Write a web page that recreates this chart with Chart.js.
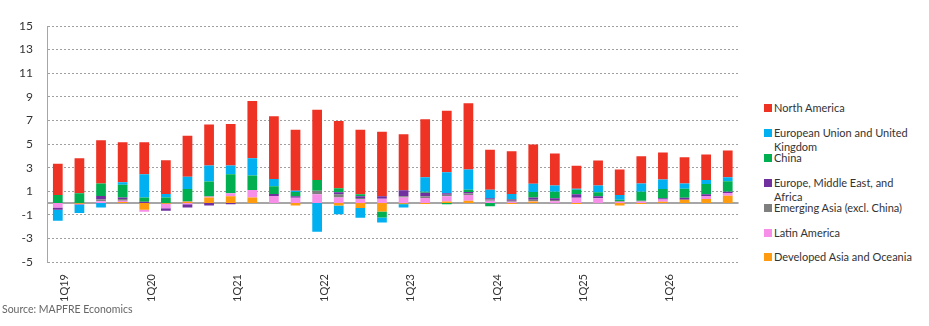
<!DOCTYPE html>
<html>
<head>
<meta charset="utf-8">
<script src="https://cdn.jsdelivr.net/npm/chart.js@4/dist/chart.umd.min.js"></script>
<style>
  body { margin: 0; background: #fff; font-family: Lato, sans-serif; }
  #wrap { position: absolute; left: 0; top: 0; width: 745px; height: 306px; }
  #legend { position: absolute; left: 764px; top: 0; width: 160px; font-size: 11px; color: #333; }
  .item { position: absolute; left: 0; width: 160px; line-height: 14px; }
  .sw { position: absolute; left: 0; top: 3px; width: 8px; height: 8px; }
  .tx { margin-left: 10px; display: block; width: 148px; }
  #src { position: absolute; left: 2px; top: 303px; font-size: 10.5px; color: #666; }
</style>
</head>
<body>
<div id="wrap"><canvas id="myChart"></canvas></div>
<div id="legend"></div>
<div id="src">Source: MAPFRE Economics</div>
<script>
var labels = [];
['19','20','21','22','23','24','25','26'].forEach(function(y){
  for (var q = 1; q <= 4; q++) labels.push(q + 'Q' + y);
});

var devAsia  = [0, -0.05, 0, 0.08, -0.57, -0.05, 0.1, 0.48, 0.57, 0.48, 0, -0.2, 0, -0.2, -0.43, -0.71, -0.05, -0.08, 0.14, 0.2, 0, -0.08, 0.12, 0, -0.08, 0, -0.2, -0.08, 0.11, 0.28, 0.34, 0.62];
var latAm    = [-0.37, -0.05, 0.15, 0.12, -0.17, -0.4, -0.1, 0.05, 0.25, 0.62, 0.6, 0.45, 0.74, 0.48, 0.34, 0.37, 0.48, 0.43, 0.43, 0.48, 0.2, 0.1, 0.05, 0.15, 0.45, 0.4, 0.1, 0.12, 0.2, 0, 0.26, 0.23];
var emAsia   = [0, 0, 0.15, 0.15, 0, 0, 0.05, 0.05, 0, 0, 0, 0, 0.31, 0.26, 0.08, 0, 0.09, 0.14, 0.14, 0.12, 0.1, 0.1, 0.1, 0.1, 0, 0, 0.07, 0.08, 0, 0, 0, 0];
var emea     = [-0.2, -0.05, 0.3, 0.13, 0.1, -0.2, -0.27, -0.2, -0.1, 0, 0.17, 0.12, 0, 0.17, 0.15, 0.2, 0.51, 0.31, 0.11, 0.14, 0.1, 0.1, 0.2, 0.15, 0.29, 0.17, 0, 0, 0.09, 0.17, 0.14, 0.11];
var china    = [0.68, 0.82, 1.05, 1.08, 0.38, 0.48, 1.03, 1.25, 1.62, 1.23, 0.65, 0.37, 0.91, 0.34, 0.17, -0.51, -0.05, 0.08, -0.1, 0.19, -0.28, 0.05, 0.46, 0.56, 0.39, 0.34, 0.11, 0.76, 0.79, 0.77, 0.88, 0.88];
var euUk     = [-0.93, -0.7, -0.37, 0.2, 1.96, 0.29, 1.05, 1.36, 0.74, 1.47, 0.62, 0.11, -2.44, -0.74, -0.82, -0.43, -0.27, 1.22, 1.79, 1.71, 0.73, 0.42, 0.71, 0.52, 0.08, 0.57, 0.4, 0.69, 0.8, 0.43, 0.34, 0.34];
var nAmerica = [2.64, 2.98, 3.68, 3.4, 2.72, 2.86, 3.47, 3.46, 3.52, 4.85, 5.31, 5.16, 5.95, 5.7, 5.47, 5.47, 4.74, 4.91, 5.22, 5.61, 3.38, 3.61, 3.31, 2.72, 1.94, 2.12, 2.16, 2.32, 2.29, 2.24, 2.15, 2.27];

// bottom of stack first
var series = [
  { label: 'Developed Asia and Oceania', data: devAsia, color: '#FF9B0F' },
  { label: 'Latin America', data: latAm, color: '#F78FE8' },
  { label: 'Emerging Asia (excl. China)', data: emAsia, color: '#7F7F7F' },
  { label: 'Europe, Middle East, and Africa', data: emea, color: '#7030A0' },
  { label: 'China', data: china, color: '#00B050' },
  { label: 'European Union and United Kingdom', data: euUk, color: '#00B0F0' },
  { label: 'North America', data: nAmerica, color: '#EE3224' }
];

var zeroLine = {
  id: 'zeroLine',
  beforeDatasetsDraw: function(chart) {
    var ctx = chart.ctx, y = chart.scales.y.getPixelForValue(0);
    ctx.save();
    ctx.strokeStyle = '#A6A6A6';
    ctx.lineWidth = 2;
    ctx.beginPath();
    ctx.moveTo(chart.chartArea.left, y);
    ctx.lineTo(chart.chartArea.right, y);
    ctx.stroke();
    ctx.restore();
  }
};

const config = {
  type: 'bar',
  data: {
    labels: labels,
    datasets: series.map(function(s){
      return { label: s.label, data: s.data, backgroundColor: s.color, borderWidth: 0,
               categoryPercentage: 0.9, barPercentage: 0.5 };
    })
  },
  options: {
    responsive: true,
    maintainAspectRatio: false,
    animation: false,
    layout: { padding: { top: 26, right: 4 } },
    plugins: { legend: { display: false }, tooltip: { enabled: false } },
    scales: {
      x: {
        stacked: true,
        grid: { display: false },
        border: { display: false },
        ticks: {
          autoSkip: false, minRotation: 90, maxRotation: 90,
          padding: 4, labelOffset: 7,
          color: '#333', font: { family: 'Lato', size: 11 },
          callback: function(v, i) { var l = labels[i]; return l.indexOf('1Q') === 0 ? l : ''; }
        }
      },
      y: {
        stacked: true,
        min: -5, max: 15,
        afterFit: function(s) { s.width = 47; },
        ticks: { stepSize: 2, color: '#333', font: { family: 'Lato', size: 12 }, padding: 14 },
        grid: { color: '#A0A0A0', drawTicks: false },
        border: { display: true, color: '#A6A6A6', width: 1, dash: [2, 2] }
      }
    }
  },
  plugins: [zeroLine]
};

var myChart = new Chart(document.getElementById('myChart'), config);

// legend, top item first
var tops = [101, 126, 151, 176, 201, 226, 250];
var leg = document.getElementById('legend');
series.slice().reverse().forEach(function(s, i){
  var d = document.createElement('div');
  d.className = 'item';
  d.style.top = tops[i] + 'px';
  d.innerHTML = '<span class="sw" style="background:' + s.color + '"></span><span class="tx">' + s.label + '</span>';
  leg.appendChild(d);
});
</script>
</body>
</html>
